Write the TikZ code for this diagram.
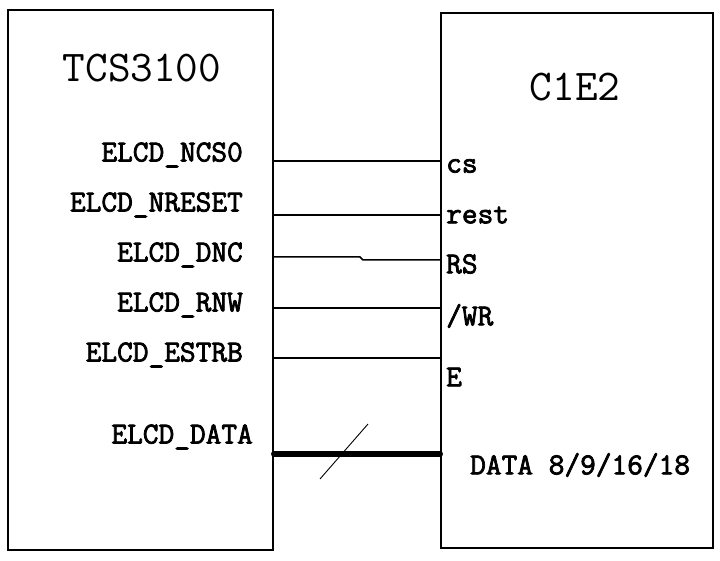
\documentclass[tikz,border=0pt]{standalone}
\usepackage{fontspec}
\newfontfamily\chipfont{Latin Modern Mono}
\newfontfamily\pinfont[FakeBold=2.5]{Latin Modern Mono}
\usetikzlibrary{positioning}
\begin{document}
\begin{tikzpicture}[x=1pt, y=-1pt,
    chip/.style={draw, line width=1.6pt, inner sep=0pt},
    chiptitle/.style={font=\chipfont\fontsize{44}{44}\selectfont},
    pinl/.style={anchor=east, inner sep=0pt, font=\pinfont\bfseries\fontsize{30.5}{30.5}\selectfont},
    pinr/.style={anchor=west, inner sep=0pt, font=\pinfont\bfseries\fontsize{30.5}{30.5}\selectfont},
    wire/.style={line width=1.3pt},
    bus/.style={line width=5.5pt, line cap=round}]
    \useasboundingbox (0,0) rectangle (720,561);

    % The two chips
    \node[chip, minimum width=265pt, minimum height=540pt] (tcs) at (140.5,280) {};
    \node[chip, minimum width=272pt, minimum height=535pt] (lcd) at (577,280.5) {};
    \node[chiptitle] (tcsname) at (142,68) {TCS3100};
    \node[chiptitle] (lcdname) at (575,87) {C1E2};

    % Pin names of TCS3100
    \node[pinl] (ncs) at (243,155) {ELCD\_NCS0};
    \node[pinl] (nreset) at (243,205) {ELCD\_NRESET};
    \node[pinl] (dnc) at (243,255) {ELCD\_DNC};
    \node[pinl] (rnw) at (243,305) {ELCD\_RNW};
    \node[pinl] (estrb) at (243,355) {ELCD\_ESTRB};
    \node[pinl] (data) at (253,437) {ELCD\_DATA};

    % Pin names of the LCD
    \node[pinr] (cs) at (446,166) {cs};
    \node[pinr] (rest) at (446,215) {rest};
    \node[pinr] (rs) at (446,264) {RS};
    \node[pinr] (wr) at (446,316) {/WR};
    \node[pinr] (e) at (446,377) {E};
    \node[pinr] (lcddata) at (470,465) {DATA 8/9/16/18};

    % Wires
    \coordinate (y1) at (0,161);
    \coordinate (y2) at (0,215);
    \coordinate (y3) at (0,257);
    \coordinate (y3b) at (0,260);
    \coordinate (y4) at (0,308);
    \coordinate (y5) at (0,358);
    \coordinate (y6) at (0,454);
    \coordinate (jog) at (360,257);
    \draw[wire] (tcs.east |- y1) -- (lcd.west |- y1);
    \draw[wire] (tcs.east |- y2) -- (lcd.west |- y2);
    \draw[wire, line width=1.5pt] (tcs.east |- y3) -- (jog) -- ([xshift=3pt]jog |- y3b) -- (lcd.west |- y3b);
    \draw[wire] (tcs.east |- y4) -- (lcd.west |- y4);
    \draw[wire] (tcs.east |- y5) -- (lcd.west |- y5);
    \draw[bus] (tcs.east |- y6) -- (lcd.west |- y6);

    % Bus width mark
    \coordinate (slasha) at (320,479);
    \coordinate (slashb) at (368,424);
    \draw[line width=0.9pt] (slasha) -- (slashb);
\end{tikzpicture}
\end{document}
